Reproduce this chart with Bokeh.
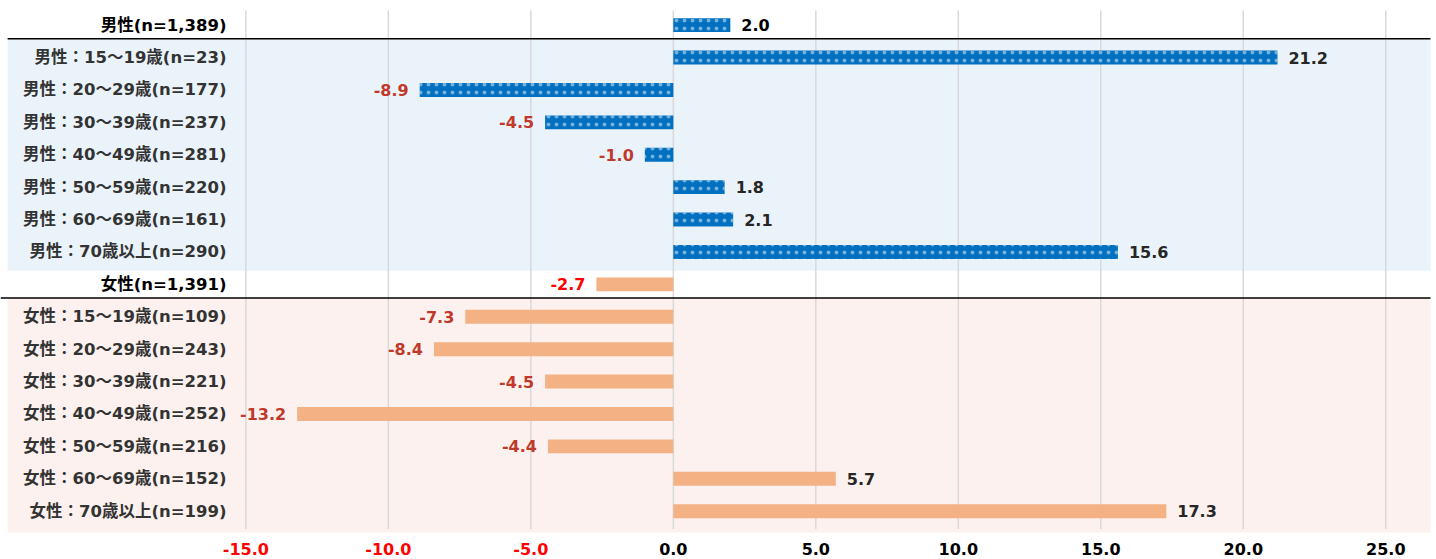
from bokeh.plotting import figure
from bokeh.models import ColumnDataSource, Range1d
from bokeh.core.properties import value
from bokeh.embed import file_html
from bokeh.resources import INLINE

labels = [
    "男性(n=1,389)",
    "男性：15～19歳(n=23)",
    "男性：20～29歳(n=177)",
    "男性：30～39歳(n=237)",
    "男性：40～49歳(n=281)",
    "男性：50～59歳(n=220)",
    "男性：60～69歳(n=161)",
    "男性：70歳以上(n=290)",
    "女性(n=1,391)",
    "女性：15～19歳(n=109)",
    "女性：20～29歳(n=243)",
    "女性：30～39歳(n=221)",
    "女性：40～49歳(n=252)",
    "女性：50～59歳(n=216)",
    "女性：60～69歳(n=152)",
    "女性：70歳以上(n=199)",
]
values = [2.0, 21.2, -8.9, -4.5, -1.0, 1.8, 2.1, 15.6,
          -2.7, -7.3, -8.4, -4.5, -13.2, -4.4, 5.7, 17.3]
is_total = [True, False, False, False, False, False, False, False,
            True, False, False, False, False, False, False, False]
tick_values = [-15, -10, -5, 0, 5, 10, 15, 20, 25]
tick_labels = ["-15.0", "-10.0", "-5.0", "0.0", "5.0", "10.0", "15.0", "20.0", "25.0"]

rows = list(range(len(labels)))

FONT = "DejaVu Sans, Noto Sans CJK JP"
BLUE = "#0070C0"
ORANGE = "#F4B183"

p = figure(width=1436, height=559,
           x_range=Range1d(-23.61, 26.78), y_range=Range1d(16.49, -0.76),
           output_backend="svg", toolbar_location=None, min_border=0,
           x_axis_location=None, y_axis_location=None,
           outline_line_color=None, background_fill_color="white")
p.grid.visible = False

# section backgrounds
p.quad(left=-23.36, right=26.57, top=[0.42, 8.42], bottom=[7.58, 15.66],
       fill_color=["#EBF3FA", "#FCF1EE"], line_color=None)

# vertical grid lines
p.segment(x0=tick_values, x1=tick_values, y0=-0.45, y1=15.55,
          line_color="#D9D9D9", line_width=1.5)

# separator lines
p.segment(x0=[-23.36, -23.61], x1=[26.57, 26.57], y0=[0.42, 8.42], y1=[0.42, 8.42],
          line_color="black", line_width=1.5)

men = ColumnDataSource(dict(y=rows[:8], v=values[:8]))
women = ColumnDataSource(dict(y=rows[8:], v=values[8:]))
p.hbar(y="y", left=0, right="v", height=0.43, source=men,
       fill_color=BLUE, line_color=None,
       hatch_pattern="dot", hatch_color="white", hatch_scale=8, hatch_weight=0.5, hatch_alpha=0.45)
p.hbar(y="y", left=0, right="v", height=0.43, source=women,
       fill_color=ORANGE, line_color=None)

# category labels
label_colors = ["black" if t else "#333333" for t in is_total]
lab_src = ColumnDataSource(dict(y=rows, t=labels, c=label_colors))
p.text(x=-15.68, y="y", text="t", source=lab_src, text_color="c",
       text_align="right", text_baseline="middle",
       text_font=value(FONT), text_font_style="bold", text_font_size="16.5px")

# value labels
val_text = ["%.1f" % v for v in values]
val_colors = []
for v, t in zip(values, is_total):
    if v >= 0:
        val_colors.append("black" if t else "#262626")
    else:
        val_colors.append("#FF0000" if t else "#C0392B")
val_src = ColumnDataSource(dict(
    x=values, y=rows, t=val_text, c=val_colors,
    a=["left" if v >= 0 else "right" for v in values],
    o=[11 if v >= 0 else -11 for v in values],
))
p.text(x="x", y="y", text="t", source=val_src, text_color="c",
       text_align="a", x_offset="o", text_baseline="middle",
       text_font=value("DejaVu Sans"), text_font_style="bold", text_font_size="16px")

# x tick labels
tick_src = ColumnDataSource(dict(
    x=tick_values, t=tick_labels,
    c=["#FF0000" if v < 0 else "black" for v in tick_values],
))
p.text(x="x", y=16.18, text="t", source=tick_src, text_color="c",
       text_align="center", text_baseline="middle",
       text_font=value("DejaVu Sans"), text_font_style="bold", text_font_size="16px")

open("out.html", "w").write(file_html(p, INLINE))
